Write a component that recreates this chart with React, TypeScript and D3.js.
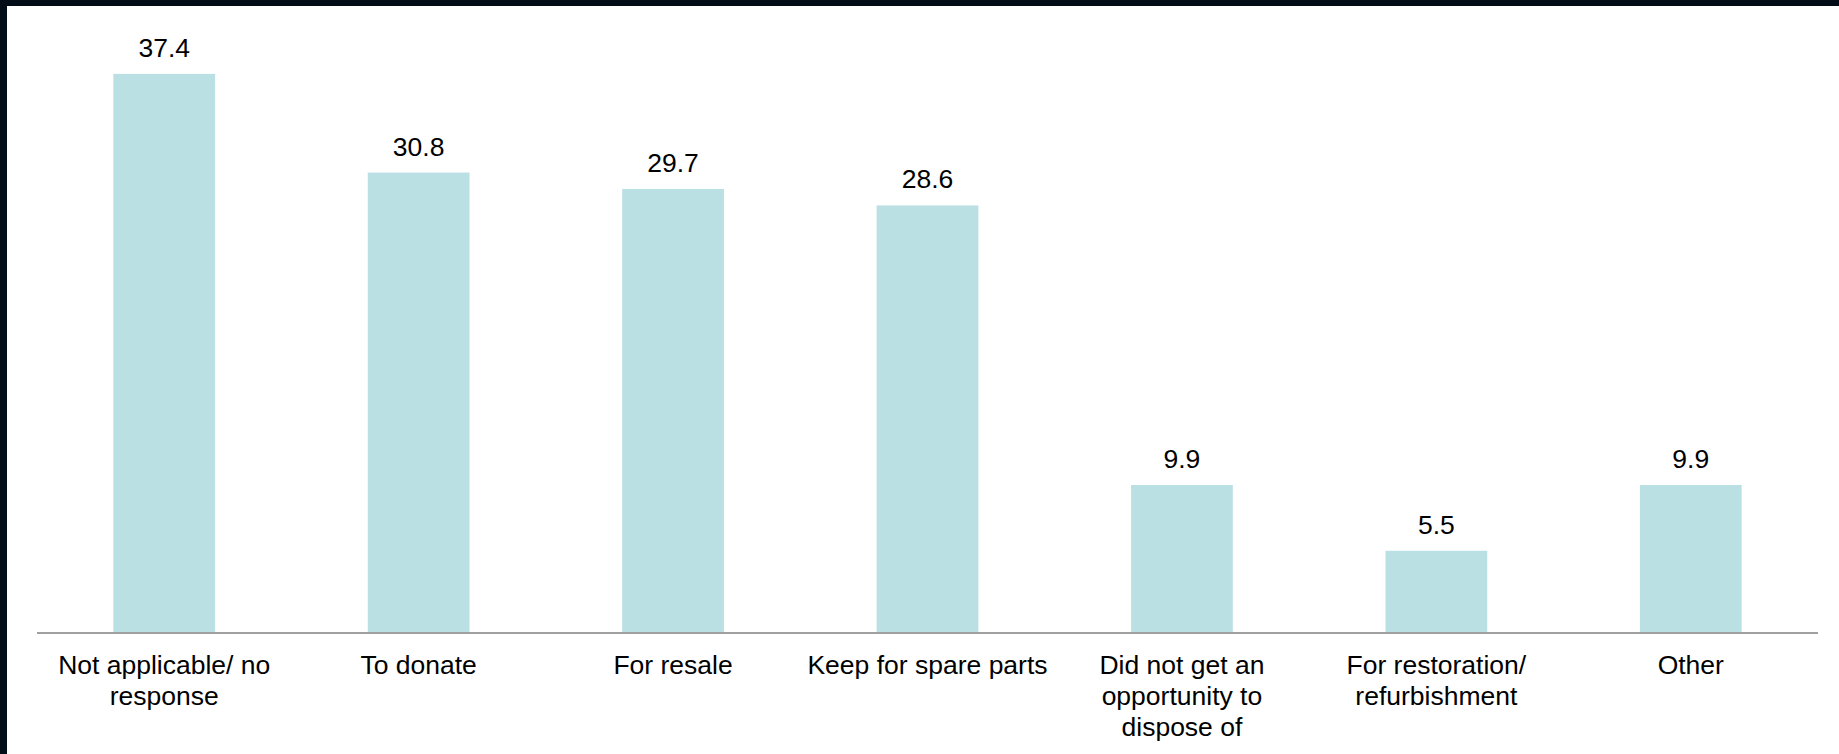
import React, { useLayoutEffect } from "react";
import * as d3 from "d3";

const categories: string[] = [
  "Not applicable/ no\nresponse",
  "To donate",
  "For resale",
  "Keep for spare parts",
  "Did not get an\nopportunity to\ndispose of",
  "For restoration/\nrefurbishment",
  "Other",
];
const values: number[] = [37.4, 30.8, 29.7, 28.6, 9.9, 5.5, 9.9];

const W = 1839;
const H = 754;

export default function App() {
  useLayoutEffect(() => {
    document.documentElement.style.overflow = "hidden";
    document.documentElement.style.background = "#ffffff";
    document.body.style.margin = "0";
    document.body.style.overflow = "hidden";
    document.body.style.background = "#ffffff";
  }, []);

  const x = d3
    .scaleBand<number>()
    .domain(d3.range(categories.length))
    .range([37, 1818])
    .paddingInner(0.6)
    .paddingOuter(0.3);
  const y = d3.scaleLinear().domain([0, 40]).range([633, 35]);
  const font = "'Liberation Sans', Arial, sans-serif";
  const fs = 26.5;

  return (
    <svg width={W} height={H} style={{ display: "block" }}>
      <rect x={0} y={0} width={W} height={H} fill="#ffffff" />
      <rect x={0} y={0} width={W} height={6} fill="#020d18" />
      <rect x={0} y={0} width={7} height={H} fill="#020d18" />
      {values.map((v, i) => (
        <g key={i}>
          <rect
            x={x(i)!}
            y={y(v)}
            width={x.bandwidth()}
            height={y(0) - y(v)}
            fill="#bbe0e3"
          />
          <text
            x={x(i)! + x.bandwidth() / 2}
            y={y(v) - 17}
            textAnchor="middle"
            fontFamily={font}
            fontSize={fs}
            fill="#000"
          >
            {v.toFixed(1)}
          </text>
          {categories[i].split("\n").map((line, j) => (
            <text
              key={j}
              x={x(i)! + x.bandwidth() / 2}
              y={674 + j * 31}
              textAnchor="middle"
              fontFamily={font}
              fontSize={fs}
              fill="#000"
            >
              {line}
            </text>
          ))}
        </g>
      ))}
      <line x1={37} x2={1818} y1={633} y2={633} stroke="#a0a0a0" strokeWidth={2} />
    </svg>
  );
}
